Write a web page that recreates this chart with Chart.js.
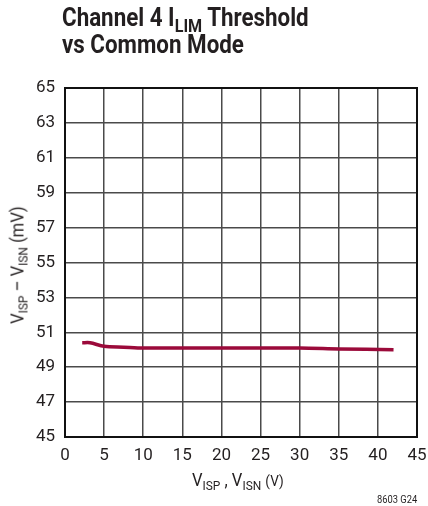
<!DOCTYPE html>
<html><head><meta charset="utf-8">
<script src="https://cdn.jsdelivr.net/npm/chart.js@4"></script>
<style>
html,body{margin:0;padding:0;background:#fff;}
#wrap{position:relative;width:428px;height:506px;font-family:Roboto,"DejaVu Sans Condensed",sans-serif;color:#231f20;}
canvas{position:absolute;left:0;top:0;}
.t{position:absolute;white-space:nowrap;}
#title{left:62px;top:4px;font-weight:bold;font-size:26px;line-height:27px;transform:scaleX(0.86);transform-origin:left top;}
sub{font-size:72%;vertical-align:-0.3em;line-height:0;}
#xl{left:192px;top:469px;font-size:18px;transform:scaleX(0.92);transform-origin:left top;}
#yl{left:17px;top:265px;font-size:18px;transform:translate(-50%,-50%) rotate(-90deg) scaleX(0.92);}
#code{left:377px;top:493px;font-size:11px;transform:scaleX(0.85);transform-origin:left top;}
</style></head>
<body><div id="wrap">
<canvas id="c" width="428" height="506"></canvas>
<div class="t" id="title">Channel 4 I<sub>LIM</sub> Threshold<br>vs Common Mode</div>
<div class="t" id="xl">V<sub>ISP</sub> , V<sub>ISN</sub> <span style="font-size:82%">(V)</span></div>
<div class="t" id="yl">V<sub>ISP</sub> – V<sub>ISN</sub> (mV)</div>
<div class="t" id="code">8603 G24</div>
</div>
<script>
const xVals=[2.2,3.2,5,7.5,10,15,20,25,30,35,42];
const yVals=[50.4,50.4,50.2,50.15,50.1,50.1,50.1,50.1,50.1,50.05,50.0];
const xTicks=[0,5,10,15,20,25,30,35,40,45];
const yTicks=[45,47,49,51,53,55,57,59,61,63,65];
const frame={id:'frame',afterDraw(ch){const a=ch.chartArea,c=ch.ctx;c.save();c.strokeStyle='#111';c.lineWidth=2;c.strokeRect(a.left,a.top,a.right-a.left,a.bottom-a.top);c.restore();}};
const font={family:'Roboto,"DejaVu Sans Condensed",sans-serif',size:17};
new Chart(document.getElementById('c'),{
type:'scatter',
data:{datasets:[{data:xVals.map((x,i)=>({x,y:yVals[i]})),showLine:true,borderColor:'#9b0a3a',borderWidth:3.5,pointRadius:0,tension:0.3,fill:false}]},
options:{responsive:false,animation:false,events:[],
layout:{padding:{left:0,top:88,right:11,bottom:0}},
plugins:{legend:{display:false},tooltip:{enabled:false}},
scales:{
x:{type:'linear',min:0,max:45,afterBuildTicks(ax){ax.ticks=xTicks.map(v=>({value:v}));},afterFit(ax){ax.height=69;ax.paddingRight=0;ax.paddingLeft=0;},
grid:{color:'#4a4a4a',lineWidth:1.5,drawTicks:false},border:{display:false},
ticks:{padding:9,color:'#231f20',font,maxRotation:0,autoSkip:false}},
y:{type:'linear',min:45,max:65,afterBuildTicks(ax){ax.ticks=yTicks.map(v=>({value:v}));},afterFit(ax){ax.width=65;ax.paddingTop=0;ax.paddingBottom=0;},
grid:{color:'#4a4a4a',lineWidth:1.5,drawTicks:false},border:{display:false},
ticks:{padding:10,color:'#231f20',font,autoSkip:false}}
}},
plugins:[frame]});
</script>
</body></html>
